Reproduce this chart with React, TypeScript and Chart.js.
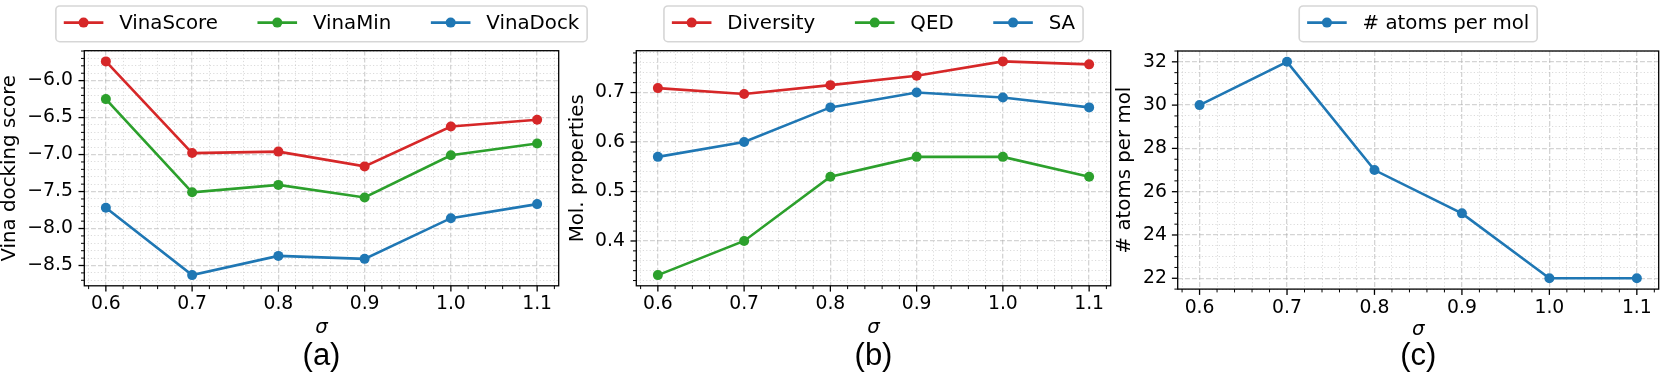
import React, { useEffect, useRef } from 'react';
import { Chart, registerables } from 'chart.js';

Chart.register(...registerables);

// ---------------- data ----------------
const sigma = [0.6, 0.7, 0.8, 0.9, 1.0, 1.1];

const vinaScore = [-5.74, -6.98, -6.96, -7.16, -6.62, -6.53];
const vinaMin = [-6.25, -7.51, -7.41, -7.58, -7.01, -6.85];
const vinaDock = [-7.72, -8.63, -8.37, -8.41, -7.86, -7.67];

const diversity = [0.709, 0.697, 0.715, 0.734, 0.763, 0.757];
const qed = [0.331, 0.4, 0.53, 0.57, 0.57, 0.53];
const sa = [0.57, 0.6, 0.67, 0.7, 0.69, 0.67];

const atomsPerMol = [30, 32, 27, 25, 22, 22];

const seriesA = ['VinaScore', 'VinaMin', 'VinaDock'];
const seriesB = ['Diversity', 'QED', 'SA'];
const seriesC = ['# atoms per mol'];

const captions = ['(a)', '(b)', '(c)'];
const yTitles = ['Vina docking score', 'Mol. properties', '# atoms per mol'];

// ---------------- style ----------------
const RED = '#d62728';
const GREEN = '#2ca02c';
const BLUE = '#1f77b4';
const FONT = 'DejaVu Sans';
const TICK_SIZE = 18.8;
const LABEL_SIZE = 19.8;

Chart.defaults.font.family = FONT;
Chart.defaults.color = '#000';

const isMultiple = (v: number, step: number) => {
  const r = v / step;
  return Math.abs(r - Math.round(r)) < 1e-6;
};

const mplPlugin = {
  id: 'mpl',
  afterDraw(chart: any, _args: any, opts: any) {
    const { ctx, chartArea: ca } = chart;
    const xs = chart.scales.x;
    const ys = chart.scales.y;
    ctx.save();
    ctx.strokeStyle = '#000';
    // tick marks
    xs.ticks.forEach((t: any) => {
      const major = isMultiple(t.value, opts.xMajor);
      const px = xs.getPixelForValue(t.value);
      ctx.lineWidth = major ? 1.3 : 1.0;
      ctx.beginPath();
      ctx.moveTo(px, ca.bottom);
      ctx.lineTo(px, ca.bottom + (major ? 5.8 : 3.3));
      ctx.stroke();
    });
    ys.ticks.forEach((t: any) => {
      const major = isMultiple(t.value, opts.yMajor);
      const py = ys.getPixelForValue(t.value);
      ctx.lineWidth = major ? 1.3 : 1.0;
      ctx.beginPath();
      ctx.moveTo(ca.left, py);
      ctx.lineTo(ca.left - (major ? 5.8 : 3.3), py);
      ctx.stroke();
    });
    // frame
    ctx.lineWidth = 1.3;
    ctx.strokeRect(ca.left, ca.top, ca.right - ca.left, ca.bottom - ca.top);

    // legend (matplotlib-like, framed)
    const F = opts.legendSize;
    ctx.font = `${F}px "${FONT}"`;
    const items = chart.data.datasets.map((d: any) => ({
      label: d.label,
      color: d.borderColor,
      w: ctx.measureText(d.label).width,
    }));
    const total =
      0.8 * F +
      items.reduce((s: number, it: any) => s + 2.8 * F + it.w, 0) +
      2 * F * (items.length - 1);
    const cx = (ca.left + ca.right) / 2;
    const bx = cx - total / 2;
    const by = 6;
    const bh = 35.7;
    ctx.beginPath();
    if ((ctx as any).roundRect) (ctx as any).roundRect(bx, by, total, bh, 4);
    else ctx.rect(bx, by, total, bh);
    ctx.fillStyle = 'rgba(255,255,255,0.8)';
    ctx.fill();
    ctx.lineWidth = 1.65;
    ctx.strokeStyle = 'rgba(204,204,204,0.8)';
    ctx.stroke();
    let x = bx + 0.4 * F;
    const yc = 22.6;
    items.forEach((it: any) => {
      ctx.strokeStyle = it.color;
      ctx.lineWidth = 2.6;
      ctx.beginPath();
      ctx.moveTo(x, yc);
      ctx.lineTo(x + 2 * F, yc);
      ctx.stroke();
      ctx.fillStyle = it.color;
      ctx.beginPath();
      ctx.arc(x + F, yc, 5, 0, Math.PI * 2);
      ctx.fill();
      ctx.fillStyle = '#000';
      ctx.textBaseline = 'alphabetic';
      ctx.textAlign = 'left';
      ctx.fillText(it.label, x + 2.8 * F, 29.3);
      x += 2.8 * F + it.w + 2 * F;
    });
    ctx.restore();
  },
};

type Panel = {
  left: number;
  width: number;
  padTop: number;
  padRight: number;
  padBottom: number;
  yWidth: number;
  xHeight: number;
  xTickPad: number;
  yTickPad: number;
  xTitlePadBottom: number;
  yMin: number;
  yMax: number;
  yMinor: number;
  yMajor: number;
  yDecimals: number;
  yTitle: string;
  caption: string;
  labels: string[];
  values: number[][];
  colors: string[];
};

const panels: Panel[] = [
  {
    left: -2, width: 602, padTop: 50.7, padRight: 41.3, padBottom: 1.5,
    yWidth: 86.3, xHeight: 52.5, xTickPad: 7.0, yTickPad: 11.4, xTitlePadBottom: -1.9,
    yMin: -8.7745, yMax: -5.5955, yMinor: 0.1, yMajor: 0.5, yDecimals: 1,
    yTitle: yTitles[0], caption: captions[0], labels: seriesA,
    values: [vinaScore, vinaMin, vinaDock], colors: [RED, GREEN, BLUE],
  },
  {
    left: 566, width: 554, padTop: 50.7, padRight: 9.3, padBottom: 1.5,
    yWidth: 70.3, xHeight: 52.5, xTickPad: 7.0, yTickPad: 11.4, xTitlePadBottom: -1.9,
    yMin: 0.3094, yMax: 0.7846, yMinor: 0.02, yMajor: 0.1, yDecimals: 1,
    yTitle: yTitles[1], caption: captions[1], labels: seriesB,
    values: [diversity, qed, sa], colors: [RED, GREEN, BLUE],
  },
  {
    left: 1113, width: 557, padTop: 51, padRight: 11.3, padBottom: 1.5,
    yWidth: 64.7, xHeight: 49.2, xTickPad: 8.0, yTickPad: 10.7, xTitlePadBottom: -3.9,
    yMin: 21.5, yMax: 32.5, yMinor: 0.5, yMajor: 2, yDecimals: 0,
    yTitle: yTitles[2], caption: captions[2], labels: seriesC,
    values: [atomsPerMol], colors: [BLUE],
  },
];

const X_MIN = 0.575;
const X_MAX = 1.125;
const X_MINOR = 0.02;
const X_MAJOR = 0.1;

const gridFor = (major: number) => ({
  drawTicks: false,
  color: (c: any) =>
    c.tick && isMultiple(c.tick.value, major) ? 'rgba(176,176,176,0.55)' : 'rgba(176,176,176,0.45)',
  lineWidth: (c: any) => (c.tick && isMultiple(c.tick.value, major) ? 1.3 : 1.0),
});
const borderFor = (major: number) => ({
  display: false,
  dash: (c: any) => (c.tick && isMultiple(c.tick.value, major) ? [4.9, 2.1] : [1.2, 2.2]),
});

function PanelChart({ p }: { p: Panel }) {
  const ref = useRef<HTMLCanvasElement | null>(null);
  useEffect(() => {
    if (!ref.current) return;
    const chart = new Chart(ref.current, {
      type: 'line',
      data: {
        datasets: p.values.map((vals, i) => ({
          label: p.labels[i],
          data: sigma.map((s, j) => ({ x: s, y: vals[j] })),
          borderColor: p.colors[i],
          backgroundColor: p.colors[i],
          pointBackgroundColor: p.colors[i],
          pointBorderColor: p.colors[i],
          pointBorderWidth: 0,
          pointRadius: 5,
          borderWidth: 2.6,
          tension: 0,
          fill: false,
        })),
      },
      options: {
        animation: false,
        responsive: false,
        devicePixelRatio: 1,
        events: [],
        layout: { padding: { top: p.padTop, right: p.padRight, bottom: p.padBottom, left: 0 } },
        plugins: {
          legend: { display: false },
          tooltip: { enabled: false },
          title: {
            display: true,
            position: 'bottom',
            fullSize: false,
            text: p.caption,
            color: '#000',
            font: { family: 'Liberation Sans', size: 31, weight: 'normal', lineHeight: 1.2 },
            padding: 0,
          },
          mpl: { xMajor: X_MAJOR, yMajor: p.yMajor, legendSize: LABEL_SIZE },
        } as any,
        scales: {
          x: {
            type: 'linear',
            min: X_MIN,
            max: X_MAX,
            afterFit: (s: any) => {
              s.height = p.xHeight;
            },
            ticks: {
              stepSize: X_MINOR,
              autoSkip: false,
              includeBounds: false,
              minRotation: 0,
              maxRotation: 0,
              padding: p.xTickPad,
              color: '#000',
              font: { size: TICK_SIZE },
              callback: (v: any) => (isMultiple(Number(v), X_MAJOR) ? Number(v).toFixed(1) : ''),
            },
            grid: gridFor(X_MAJOR),
            border: borderFor(X_MAJOR),
            title: {
              display: true,
              text: 'σ',
              color: '#000',
              font: { size: LABEL_SIZE, style: 'italic' },
              padding: { top: 0, bottom: p.xTitlePadBottom },
            },
          },
          y: {
            type: 'linear',
            min: p.yMin,
            max: p.yMax,
            afterFit: (s: any) => {
              s.width = p.yWidth;
            },
            ticks: {
              stepSize: p.yMinor,
              autoSkip: false,
              includeBounds: false,
              padding: p.yTickPad,
              color: '#000',
              font: { size: TICK_SIZE },
              callback: (v: any) =>
                isMultiple(Number(v), p.yMajor)
                  ? Number(v).toFixed(p.yDecimals).replace('-', '\u2212')
                  : '',
            },
            grid: gridFor(p.yMajor),
            border: borderFor(p.yMajor),
            title: {
              display: true,
              text: p.yTitle,
              color: '#000',
              font: { size: LABEL_SIZE },
              padding: { top: 0, bottom: 0 },
            },
          },
        },
      } as any,
      plugins: [mplPlugin],
    });
    return () => chart.destroy();
  }, [p]);
  return (
    <canvas
      ref={ref}
      width={p.width}
      height={377}
      style={{ position: 'absolute', left: p.left, top: 0, width: p.width, height: 377 }}
    />
  );
}

export default function App() {
  return (
    <div
      style={{
        position: 'absolute',
        left: 0,
        top: 0,
        width: 1661,
        height: 377,
        overflow: 'hidden',
        background: '#fff',
      }}
    >
      {panels.map((p, i) => (
        <PanelChart key={i} p={p} />
      ))}
    </div>
  );
}
